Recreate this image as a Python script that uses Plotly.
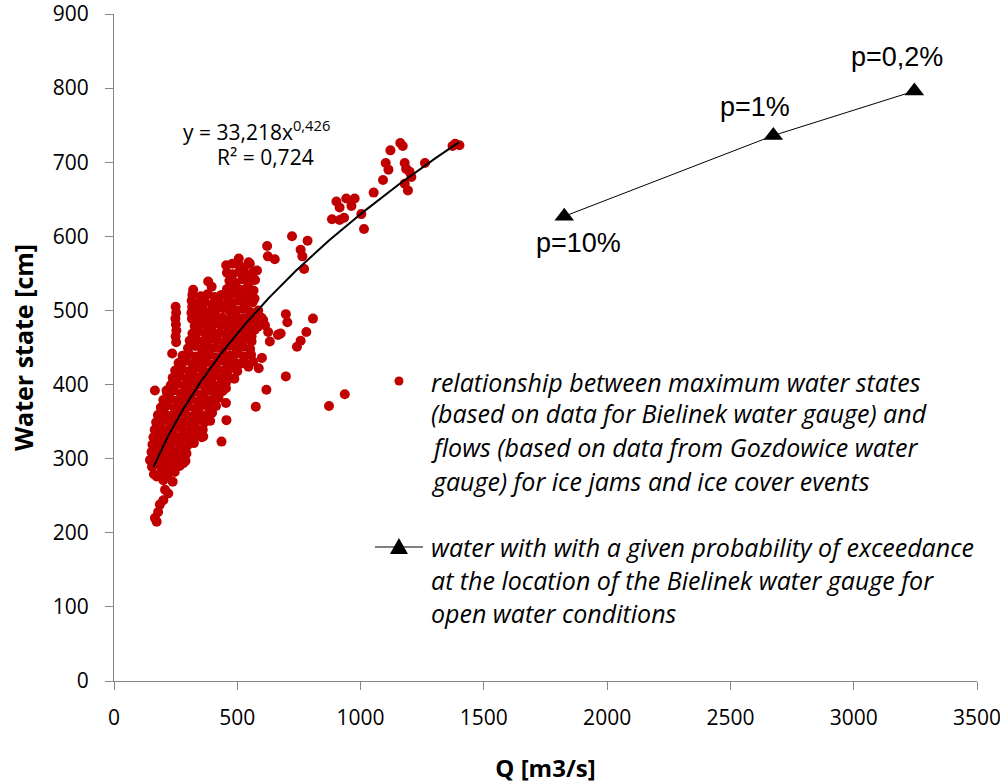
import plotly.graph_objects as go

# Ice-jam / ice-cover events: flow at Gozdowice [m3/s] vs. maximum water state at Bielinek [cm]
ice_q = [
    455, 480, 505, 528, 546,
    458, 482, 508, 536, 563,
    468, 494, 521, 548, 572,
    458, 485, 512, 540, 566,
    352, 380, 408, 436, 462, 490, 518, 545, 570,
    342, 370, 398, 425, 452, 480, 508, 535, 562,
    333, 360, 388, 415, 443, 470, 498, 525, 553, 585,
    330, 356, 384, 412, 440, 468, 495, 522, 550, 578, 598,
    327, 352, 380, 407, 435, 462, 490, 518, 545, 572,
    318, 345, 372, 400, 428, 455, 483, 510, 538,
    307, 334, 362, 390, 418, 446, 474, 502, 530, 558,
    300, 328, 356, 384, 412, 440, 468, 496, 524, 552,
    278, 305, 333, 361, 389, 417, 445, 473, 500, 528, 556,
    262, 290, 318, 346, 374, 402, 430, 458, 486, 514,
    248, 276, 304, 332, 360, 388, 416, 444, 472, 500,
    238, 266, 294, 322, 350, 378, 406, 434, 462, 488,
    230, 258, 286, 314, 342, 370, 398, 426, 454,
    215, 243, 271, 299, 327, 355, 383, 411, 440,
    200, 228, 256, 284, 312, 340, 368, 396, 424,
    190, 218, 246, 274, 302, 330, 358, 386, 414,
    178, 206, 234, 262, 290, 318, 346, 374, 398,
    171, 199, 227, 255, 283, 311, 339, 367, 390,
    165, 193, 221, 249, 277, 305, 333, 360,
    160, 188, 216, 244, 272, 300, 328, 355,
    156, 184, 212, 240, 268, 296, 324,
    152, 180, 208, 236, 264, 292,
    150, 178, 206, 234, 262, 290,
    154, 182, 210, 238, 266,
    162, 190, 218, 246,
    250, 252, 249, 251, 253, 250, 252,
    321, 318, 315, 317, 314, 316,
    506, 551, 580, 517, 621, 624, 652, 722, 785, 757, 764, 771,
    697, 703, 807, 676, 780, 757, 742, 697, 936, 872, 669, 632,
    605, 584, 564, 587, 524, 618, 575, 598, 612, 625, 665, 571, 600, 545,
    558, 531, 490, 454, 454, 456, 436, 362, 236, 166, 213, 382, 396,
    902, 915, 942, 976, 963, 884, 915, 933, 1003, 1014, 1053, 1091, 1102, 1113,
    1121, 1161, 1171, 1179, 1185, 1199, 1206, 1179, 1192, 1261, 1384, 1401, 1373,
    159, 146, 173, 200, 238, 281, 294, 207, 220, 200, 186, 179, 166, 173,
]
ice_h = [
    561, 563, 562, 558, 565,
    551, 549, 552, 547, 551,
    540, 537, 542, 538, 541,
    529, 532, 528, 531, 527,
    519, 522, 518, 521, 517, 523, 519, 520, 516,
    509, 511, 508, 512, 507, 510, 513, 508, 511,
    499, 502, 498, 501, 503, 499, 500, 502, 498, 500,
    489, 491, 488, 492, 490, 487, 491, 489, 492, 488, 490,
    479, 481, 478, 482, 480, 477, 481, 479, 482, 478,
    469, 472, 468, 471, 470, 467, 472, 469, 471,
    459, 461, 458, 462, 460, 457, 461, 459, 462, 458,
    449, 452, 448, 451, 450, 447, 452, 449, 451, 448,
    439, 441, 438, 442, 440, 437, 441, 439, 442, 438, 440,
    429, 432, 428, 431, 430, 427, 432, 429, 431, 428,
    419, 421, 418, 422, 420, 417, 421, 419, 422, 418,
    409, 412, 408, 411, 410, 407, 412, 409, 411, 408,
    399, 401, 398, 402, 400, 397, 401, 399, 402,
    389, 392, 388, 391, 390, 387, 392, 389, 391,
    379, 381, 378, 382, 380, 377, 381, 379, 382,
    369, 372, 368, 371, 370, 367, 372, 369, 371,
    359, 361, 358, 362, 360, 357, 361, 359, 362,
    349, 352, 348, 351, 350, 347, 352, 349, 351,
    339, 341, 338, 342, 340, 337, 341, 339,
    329, 332, 328, 331, 330, 327, 332, 329,
    319, 321, 318, 322, 320, 317, 321,
    309, 312, 308, 311, 310, 307,
    299, 301, 298, 302, 300, 297,
    289, 292, 288, 291, 290,
    279, 281, 278, 282,
    505, 497, 489, 481, 473, 465, 457,
    528, 521, 513, 505, 497, 489,
    570, 563, 554, 552, 587, 573, 569, 600, 594, 582, 573, 556,
    495, 484, 489, 469, 471, 459, 451, 411, 387, 371, 468, 458,
    487, 478, 431, 422, 431, 393, 370, 489, 480, 471, 467, 474, 436, 424,
    465, 429, 424, 395, 375, 352, 323, 330, 442, 392, 392, 539, 532,
    647, 639, 651, 651, 641, 623, 622, 625, 630, 610, 659, 676, 699, 690,
    716, 726, 722, 699, 691, 687, 680, 671, 662, 699, 725, 723, 722,
    303, 298, 276, 271, 269, 294, 307, 258, 253, 244, 238, 228, 220, 215,
]

# Open-water levels with a given probability of exceedance (Bielinek)
prob_q = [1826, 2674, 3246]
prob_h = [627, 736, 796]
prob_labels = ["p=10%", "p=1%", "p=0,2%"]

# Power-law trend fitted to the ice events: H = a * Q^b
trend_a = 33.218
trend_b = 0.426
trend_r2 = 0.724
trend_q_start = 160
trend_q_end = 1400

x_ticks = [0, 500, 1000, 1500, 2000, 2500, 3000, 3500]
y_ticks = [0, 100, 200, 300, 400, 500, 600, 700, 800, 900]

RED = "#C00000"
AXIS_GREY = "#868686"
TEXT_FONT = "Open Sans"


def comma(v):
    return str(v).replace(".", ",")


n_steps = 120
trend_q = [trend_q_start + i * (trend_q_end - trend_q_start) / n_steps for i in range(n_steps + 1)]
trend_h = [trend_a * q ** trend_b for q in trend_q]

fig = go.Figure()

fig.add_trace(go.Scatter(
    x=ice_q, y=ice_h, mode="markers",
    marker=dict(color=RED, size=10, line=dict(width=0)),
    showlegend=False, hoverinfo="skip",
))

fig.add_trace(go.Scatter(
    x=trend_q, y=trend_h, mode="lines",
    line=dict(color="black", width=2),
    showlegend=False, hoverinfo="skip",
))

fig.add_trace(go.Scatter(
    x=prob_q, y=prob_h, mode="lines+markers",
    line=dict(color="black", width=1),
    marker=dict(symbol="triangle-up", size=17, color="black"),
    showlegend=False, hoverinfo="skip",
))

# labels next to the probability markers
label_offsets = [(14, -27), (-18, 29), (-17, 34)]
annotations = []
for q, h, txt, (dx, dy) in zip(prob_q, prob_h, prob_labels, label_offsets):
    annotations.append(dict(
        x=q, y=h, xref="x", yref="y", text=txt, showarrow=False,
        xshift=dx, yshift=dy, xanchor="center", yanchor="middle",
        font=dict(family="Liberation Sans", size=27, color="black"),
    ))

# trend equation
annotations.append(dict(
    x=0.1657, y=0.826, xref="paper", yref="paper", showarrow=False,
    text=f"y = {comma(trend_a)}x<sup>{comma(trend_b)}</sup>",
    xanchor="center", yanchor="middle",
    font=dict(family=TEXT_FONT, size=21, color="black"),
))
annotations.append(dict(
    x=0.175, y=0.7856, xref="paper", yref="paper", showarrow=False,
    text=f"R² = {comma(trend_r2)}", xanchor="center", yanchor="middle",
    font=dict(family=TEXT_FONT, size=21, color="black"),
))

# legend text
legend_lines = [
    ("relationship between maximum water states", 0.4483),
    ("(based on data for Bielinek water gauge) and", 0.4018),
    ("flows (based on data from Gozdowice water", 0.3508),
    ("gauge) for ice jams and ice cover events", 0.2999),
    ("water with with a given probability of exceedance", 0.2009),
    ("at the location of the Bielinek water gauge for", 0.1514),
    ("open water conditions", 0.1019),
]
for txt, yy in legend_lines:
    annotations.append(dict(
        x=0.3655, y=yy, xref="paper", yref="paper", showarrow=False,
        text=f"<i>{txt}</i>", xanchor="left", yanchor="middle",
        font=dict(family=TEXT_FONT, size=25, color="black"),
    ))

shapes = [
    dict(type="circle", xref="paper", yref="paper", xsizemode="pixel", ysizemode="pixel",
         xanchor=0.3302, yanchor=0.4498, x0=-4.5, x1=4.5, y0=-4.5, y1=4.5,
         fillcolor=RED, line=dict(width=0)),
    dict(type="line", xref="paper", yref="paper", x0=0.3024, x1=0.3581, y0=0.2009, y1=0.2009,
         line=dict(color="black", width=1)),
    dict(type="path", xref="paper", yref="paper", xsizemode="pixel", ysizemode="pixel",
         xanchor=0.3302, yanchor=0.2009, path="M -9,-7 L 9,-7 L 0,9 Z",
         fillcolor="black", line=dict(width=0)),
]

axis_common = dict(
    showline=True, linecolor=AXIS_GREY, linewidth=1,
    ticks="outside", ticklen=8, tickcolor=AXIS_GREY, tickwidth=1,
    showgrid=False, zeroline=False, automargin=False,
    ticklabeloverflow="allow",
    tickfont=dict(family=TEXT_FONT, size=21, color="black"),
)

fig.update_layout(
    width=1000, height=784,
    margin=dict(l=114, r=23, t=14, b=103),
    paper_bgcolor="white", plot_bgcolor="white",
    xaxis=dict(range=[0, 3500], tickvals=x_ticks, ticklabelstandoff=10,
               title=dict(text="<b>Q [m3/s]</b>", font=dict(family=TEXT_FONT, size=24, color="black"), standoff=31),
               **axis_common),
    yaxis=dict(range=[0, 900], tickvals=y_ticks, ticklabelstandoff=12,
               title=dict(text="<b>Water state [cm]</b>", font=dict(family=TEXT_FONT, size=25, color="black"), standoff=12),
               **axis_common),
    annotations=annotations,
    shapes=shapes,
    showlegend=False,
)

fig.write_html("out.html")
